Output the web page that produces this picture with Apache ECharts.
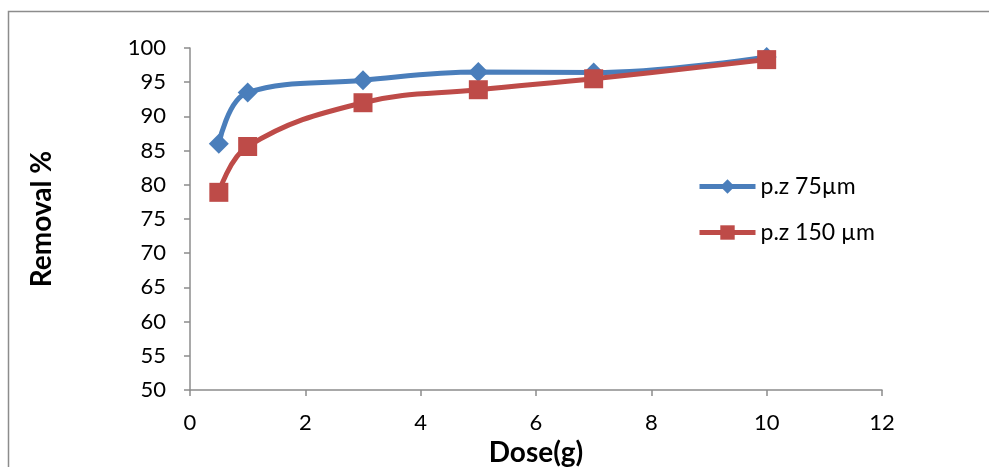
<!DOCTYPE html>
<html>
<head>
<meta charset="utf-8">
<script src="https://cdn.jsdelivr.net/npm/echarts@6/dist/echarts.min.js"></script>
<style>html,body{margin:0;padding:0;background:#fff;}#c{width:989px;height:467px;}</style>
</head>
<body>
<div id="c"></div>
<script>
var doseX = [0.5, 1, 3, 5, 7, 10];
var removal75 = [86, 93.5, 95.3, 96.5, 96.4, 98.7];
var removal150 = [78.9, 85.6, 92, 93.9, 95.5, 98.3];
var seriesNames = ['p.z 75µm', 'p.z 150 µm'];

function pairs(xs, ys) { return xs.map(function (x, i) { return [x, ys[i]]; }); }

var chart = echarts.init(document.getElementById('c'));
var font = 'Lato, "Open Sans", sans-serif';
chart.setOption({
  animation: false,
  backgroundColor: '#fff',
  textStyle: { fontFamily: font },
  graphic: [{
    type: 'polyline',
    shape: { points: [[8.5, 470], [8.5, 11.5], [995, 11.5]] },
    style: { stroke: '#8c8c8c', lineWidth: 1.5, fill: null },
    silent: true
  }],
  grid: { left: 190, right: 107, top: 48, bottom: 77, containLabel: false, outerBoundsMode: 'none' },
  legend: {
    orient: 'vertical',
    left: 697,
    top: 175,
    padding: 0,
    itemWidth: 56,
    itemHeight: 18,
    itemGap: 23,
    lineStyle: { width: 5 },
    textStyle: { fontSize: 23, color: '#000', fontFamily: font },
    data: seriesNames
  },
  xAxis: {
    type: 'value',
    min: 0, max: 12, interval: 2,
    name: 'Dose(g)',
    nameLocation: 'middle',
    nameGap: 45,
    nameTextStyle: { fontSize: 28, fontWeight: 'bold', color: '#000', fontFamily: font },
    axisLine: { show: true, lineStyle: { color: '#8c8c8c', width: 1.5 } },
    axisTick: { show: true, length: 6, lineStyle: { color: '#8c8c8c', width: 1.5 } },
    axisLabel: { fontSize: 22, color: '#000', margin: 22, fontFamily: font },
    splitLine: { show: false }
  },
  yAxis: {
    type: 'value',
    min: 50, max: 100, interval: 5,
    name: 'Removal %',
    nameLocation: 'middle',
    nameGap: 134,
    nameRotate: 90,
    nameTextStyle: { fontSize: 28, fontWeight: 'bold', color: '#000', fontFamily: font },
    axisLine: { show: true, lineStyle: { color: '#8c8c8c', width: 1.5 } },
    axisTick: { show: true, length: 6, lineStyle: { color: '#8c8c8c', width: 1.5 } },
    axisLabel: { fontSize: 22, color: '#000', margin: 24, fontFamily: font },
    splitLine: { show: false }
  },
  series: [{
    name: seriesNames[0],
    type: 'line',
    smooth: 0.4,
    data: pairs(doseX, removal75),
    symbol: 'diamond',
    symbolSize: 20,
    lineStyle: { color: '#4A7EBB', width: 5 },
    itemStyle: { color: '#4A7EBB' }
  }, {
    name: seriesNames[1],
    type: 'line',
    smooth: 0.4,
    data: pairs(doseX, removal150),
    symbol: 'rect',
    symbolSize: 19,
    lineStyle: { color: '#BE4B48', width: 5 },
    itemStyle: { color: '#BE4B48' }
  }]
});
</script>
</body>
</html>
